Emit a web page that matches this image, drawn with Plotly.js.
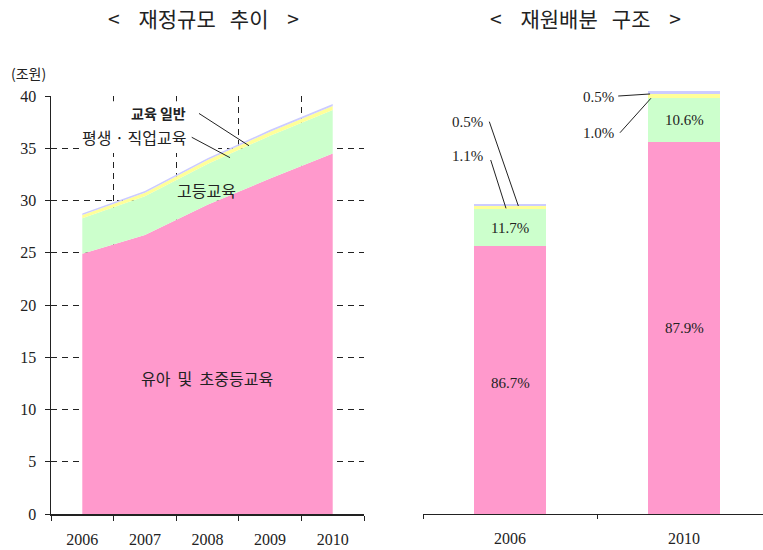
<!DOCTYPE html>
<html><head><meta charset="utf-8">
<script src="https://cdn.plot.ly/plotly-3.0.1.min.js"></script>
<style>html,body{margin:0;padding:0;background:#fff}#chart{width:763px;height:550px}</style>
</head><body><div id="chart"></div>
<script>
// ---- data ----
const years = ['2006', '2007', '2008', '2009', '2010'];
const primarySecondary = [24.9, 26.7, 29.6, 32.1, 34.5];   // 유아 및 초중등교육
const higherEdu = [3.4, 3.7, 3.9, 4.1, 4.15];               // 고등교육
const lifelongEdu = [0.32, 0.35, 0.37, 0.38, 0.39];         // 평생·직업교육
const generalEdu = [0.14, 0.16, 0.17, 0.18, 0.2];           // 교육 일반
const seriesNames = ['유아 및 초중등교육', '고등교육', '평생 · 직업교육', '교육 일반'];
const seriesColors = ['#FF99CC', '#CCFFCC', '#FFFF99', '#CCCCFF'];
const barYears = ['2006', '2010'];
const share2006 = [86.7, 11.7, 1.1, 0.5];
const share2010 = [87.9, 10.6, 1.0, 0.5];
const yTickVals = [0, 5, 10, 15, 20, 25, 30, 35, 40];

const series = [primarySecondary, higherEdu, lifelongEdu, generalEdu];
const serif = '"Liberation Serif", "Times New Roman", serif';
const kfont = '"Noto Sans CJK KR", sans-serif';
const ink = '#222';

const traces = [];
series.forEach((s, i) => {
  traces.push({
    type: 'scatter', x: years, y: s, name: seriesNames[i],
    stackgroup: 'area', mode: 'none', fillcolor: seriesColors[i],
    xaxis: 'x', yaxis: 'y', hoverinfo: 'skip'
  });
});
const barIdx = barYears.map(y => years.indexOf(y));
series.forEach((s, i) => {
  traces.push({
    type: 'bar', x: barYears, y: barIdx.map(k => s[k]), name: seriesNames[i],
    marker: {color: seriesColors[i], line: {width: 0}}, width: 0.41,
    xaxis: 'x2', yaxis: 'y2', hoverinfo: 'skip'
  });
});

const lineStyle = {color: ink, width: 1};
const shapes = [
  // white backdrop behind the left-chart labels (hides grid)
  {type: 'rect', xref: 'x', yref: 'y', x0: -0.005, x1: 2.17, y0: 34.55, y1: 39.5,
   fillcolor: '#fff', line: {width: 0}, layer: 'between'},
  // leader lines, left chart
  {type: 'line', xref: 'x', yref: 'y', x0: 1.864, y0: 38.33, x1: 2.663, y1: 35.24, line: lineStyle},
  {type: 'line', xref: 'x', yref: 'y', x0: 1.748, y0: 36.05, x1: 2.36, y1: 34.1, line: lineStyle},
  // leader lines, right chart
  {type: 'line', xref: 'x2', yref: 'y2', x0: -0.119, y0: 36.43, x1: 0.048, y1: 28.6, line: lineStyle},
  {type: 'line', xref: 'x2', yref: 'y2', x0: -0.111, y0: 32.87, x1: -0.023, y1: 28.38, line: lineStyle},
  {type: 'line', xref: 'x2', yref: 'y2', x0: 0.622, y0: 38.81, x1: 0.805, y1: 39.0, line: lineStyle},
  {type: 'line', xref: 'x2', yref: 'y2', x0: 0.632, y0: 35.4, x1: 0.81, y1: 38.6, line: lineStyle}
];

const pctFont = {family: serif, size: 15, color: ink};
const kFontLbl = {family: kfont, size: 16, color: ink};
const fmt = v => v.toFixed(1) + '%';
const C = {xanchor: 'center', yanchor: 'middle', showarrow: false};
const sp = n => '\u00a0'.repeat(n);
const annotations = [
  Object.assign({xref: 'paper', yref: 'paper', x: 203 / 763, y: (514 - 18) / 434,
    text: '<' + sp(4) + '재정규모' + sp(3) + '추이' + sp(4) + '>', font: {family: kfont, size: 21, color: ink}}, C),
  Object.assign({xref: 'paper', yref: 'paper', x: 585 / 763, y: (514 - 18) / 434,
    text: '<' + sp(4) + '재원배분' + sp(3) + '구조' + sp(4) + '>', font: {family: kfont, size: 21, color: ink}}, C),
  Object.assign({xref: 'paper', yref: 'paper', x: 28 / 763, y: (514 - 73) / 434, text: '(조원)',
    font: {family: kfont, size: 14, color: ink}}, C),
  Object.assign({xref: 'x', yref: 'y', x: 1.225, y: 38.37, text: '<b>교육 일반</b>', font: {family: kfont, size: 14, color: ink}}, C),
  Object.assign({xref: 'x', yref: 'y', x: 0.826, y: 36.08, text: '평생\u00a0·\u00a0직업교육', font: kFontLbl}, C),
  Object.assign({xref: 'x', yref: 'y', x: 1.99, y: 31.0, text: '고등교육', font: kFontLbl}, C),
  Object.assign({xref: 'x', yref: 'y', x: 1.99, y: 13.0, text: '유아\u00a0\u00a0및\u00a0\u00a0초중등교육', font: kFontLbl}, C),
  // right chart inside labels (category index positions)
  Object.assign({xref: 'x2', yref: 'y2', x: 0, y: primarySecondary[barIdx[0]] / 2 - 0.3, text: fmt(share2006[0]), font: pctFont}, C),
  Object.assign({xref: 'x2', yref: 'y2', x: 0, y: primarySecondary[barIdx[0]] + higherEdu[barIdx[0]] / 2, text: fmt(share2006[1]), font: pctFont}, C),
  Object.assign({xref: 'x2', yref: 'y2', x: 1, y: primarySecondary[barIdx[1]] / 2, text: fmt(share2010[0]), font: pctFont}, C),
  Object.assign({xref: 'x2', yref: 'y2', x: 1, y: primarySecondary[barIdx[1]] + higherEdu[barIdx[1]] / 2, text: fmt(share2010[1]), font: pctFont}, C),
  // right chart outside labels
  Object.assign({xref: 'x2', yref: 'y2', x: -0.247, y: 36.43, text: fmt(share2006[3]), font: pctFont}, C),
  Object.assign({xref: 'x2', yref: 'y2', x: -0.247, y: 33.24, text: fmt(share2006[2]), font: pctFont}, C),
  Object.assign({xref: 'x2', yref: 'y2', x: 0.506, y: 38.69, text: fmt(share2010[3]), font: pctFont}, C),
  Object.assign({xref: 'x2', yref: 'y2', x: 0.506, y: 35.35, text: fmt(share2010[2]), font: pctFont}, C)
];

const tickFont = {family: serif, size: 16, color: ink};
const layout = {
  width: 763, height: 550,
  margin: {l: 0, r: 0, t: 80, b: 36, pad: 0},
  paper_bgcolor: '#fff', plot_bgcolor: 'rgba(0,0,0,0)',
  showlegend: false, barmode: 'stack',
  xaxis: {
    domain: [51 / 763, 364 / 763], type: 'category', range: [-0.5, 4.5],
    tickson: 'boundaries', ticks: 'outside', ticklen: 5, tickcolor: ink, tickwidth: 1,
    showline: true, linecolor: ink, linewidth: 1.5,
    showgrid: true, gridcolor: ink, gridwidth: 1, griddash: '6px,5px',
    tickfont: tickFont, ticklabelstandoff: 10, automargin: false, fixedrange: true, zeroline: false
  },
  yaxis: {
    domain: [0, 418 / 434], range: [0, 40], tickvals: yTickVals,
    ticks: 'outside', ticklen: 5, tickcolor: ink,
    showline: true, linecolor: ink, linewidth: 1.5,
    showgrid: true, gridcolor: ink, gridwidth: 1, griddash: '6px,5px',
    zeroline: false, tickfont: tickFont, ticklabelstandoff: 5, automargin: false, fixedrange: true
  },
  xaxis2: {
    domain: [423 / 763, 1], type: 'category', range: [-0.5, 1.454], anchor: 'y2',
    tickson: 'boundaries', ticks: 'outside', ticklen: 4, tickcolor: ink,
    showline: true, linecolor: ink, linewidth: 1, showgrid: false,
    tickfont: tickFont, ticklabelstandoff: 10, automargin: false, fixedrange: true, zeroline: false
  },
  yaxis2: {
    domain: [0, 1], range: [0, 434 / 10.77], anchor: 'x2', visible: false, fixedrange: true
  },
  shapes: shapes,
  annotations: annotations
};

Plotly.newPlot('chart', traces, layout, {staticPlot: true, displayModeBar: false});
</script>
</body></html>
